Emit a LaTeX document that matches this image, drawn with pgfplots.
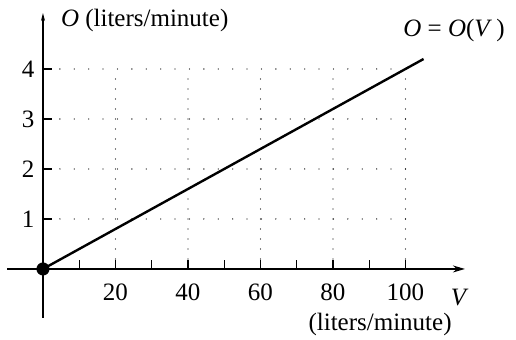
\documentclass[border=0pt]{standalone}
\usepackage{fontspec}
\setmainfont{Liberation Serif}
\usepackage{pgfplots}
\pgfplotsset{compat=1.18}
\usetikzlibrary{arrows.meta}
\begin{document}
\begin{tikzpicture}
\begin{axis}[
 x=3.625pt, y=50pt,
 xmin=-9.9, xmax=116.4, ymin=-0.98, ymax=5.12,
 axis lines=middle,
 axis line style={line width=1.1pt},
 x axis line style={-{Stealth[length=12pt,width=7pt]}},
 y axis line style={-{Stealth[length=8pt,width=4pt]}},
 xtick={20,40,60,80,100}, minor xtick={10,30,50,70,90},
 ytick={1,2,3,4},
 tick align=inside,
 major tick length=9pt, minor tick length=9pt,
 tick style={line width=1.1pt, black},
 every tick label/.append style={font=\fontsize{25}{29}\selectfont},
 /pgf/number format/assume math mode=true,
 xticklabel style={yshift=-11pt},
 yticklabel style={xshift=-5pt},
 clip=false,
]
\path (axis cs:-11.86,-1.36) rectangle (axis cs:130.5,5.38);
\pgfplotsinvokeforeach{20,40,60,80,100}{
  \draw[line width=1.3pt, line cap=round, dash pattern=on 0pt off 10pt, dash phase=0pt] (axis cs:#1,0.2) -- (axis cs:#1,4);
}
\pgfplotsinvokeforeach{1,2,3,4}{
  \draw[line width=1.3pt, line cap=round, dash pattern=on 0pt off 14.4pt] (axis cs:100,#1) -- (axis cs:4,#1);
}
\addplot[black, line width=2.4pt] coordinates {(0,0) (105,4.2)};
\addplot[only marks, mark=*, mark size=6.3pt, black] coordinates {(0,0)};
\node[anchor=west, font=\fontsize{25}{29}\selectfont] at (axis cs:4.0,4.98) {\textit{O} (liters/minute)};
\node[font=\fontsize{25}{29}\selectfont] at (axis cs:113.4,4.78) {\textit{O} = \textit{O}(\textit{V}\,)};
\node[font=\fontsize{25}{29}\selectfont] at (axis cs:115,-0.58) {\textit{V}};
\node[font=\fontsize{25}{29}\selectfont] at (axis cs:93,-1.12) {(liters/minute)};
\end{axis}
\end{tikzpicture}
\end{document}
